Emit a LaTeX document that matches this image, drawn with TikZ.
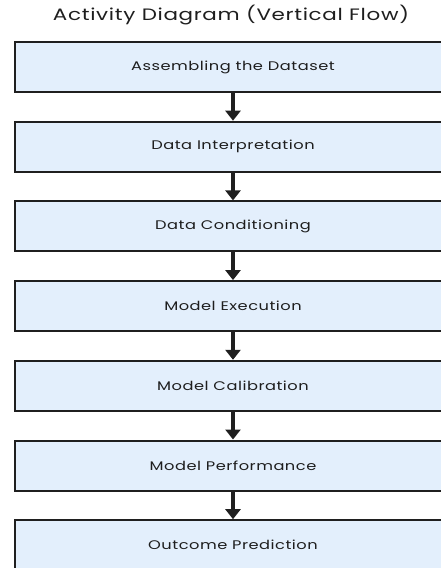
\documentclass[tikz,border=0pt]{standalone}
\usepackage{fontspec}
\setmainfont[LetterSpace=4,FakeStretch=1.3]{Poppins}
\usetikzlibrary{arrows.meta,positioning}
\definecolor{stepfill}{HTML}{E3EFFC}
\definecolor{edge}{HTML}{1F1F1F}
\definecolor{ink}{HTML}{1E1E1E}
\tikzset{
  activity/.style={draw=edge, fill=stepfill, line width=2pt, minimum width=436pt,
                   minimum height=50pt, inner sep=0pt, text=ink, font=\fontsize{12.5}{14}\selectfont},
  flow/.style={-{Triangle[length=10pt,width=15pt]}, line width=3.4pt, draw=edge}
}
\begin{document}
\begin{tikzpicture}[x=1pt,y=-1pt]
  \useasboundingbox (0,0) rectangle (440,568);
  % heading
  \node[font=\fontsize{16.5}{19}\selectfont, text=ink] (head) at (231,15) {Activity Diagram (Vertical Flow)};

  % activity boxes, top to bottom
  \foreach \i/\lab in {1/Assembling the Dataset,2/Data Interpretation,3/Data Conditioning,
                       4/Model Execution,5/Model Calibration,6/Model Performance,7/Outcome Prediction} {
    \node[activity] (a\i) at (233,{67+(\i-1)*79.7}) {\lab};
  }

  % control flow
  \foreach \i [evaluate=\i as \j using int(\i+1)] in {1,...,6} {
    \draw[flow] (a\i) -- (a\j);
  }
\end{tikzpicture}
\end{document}
